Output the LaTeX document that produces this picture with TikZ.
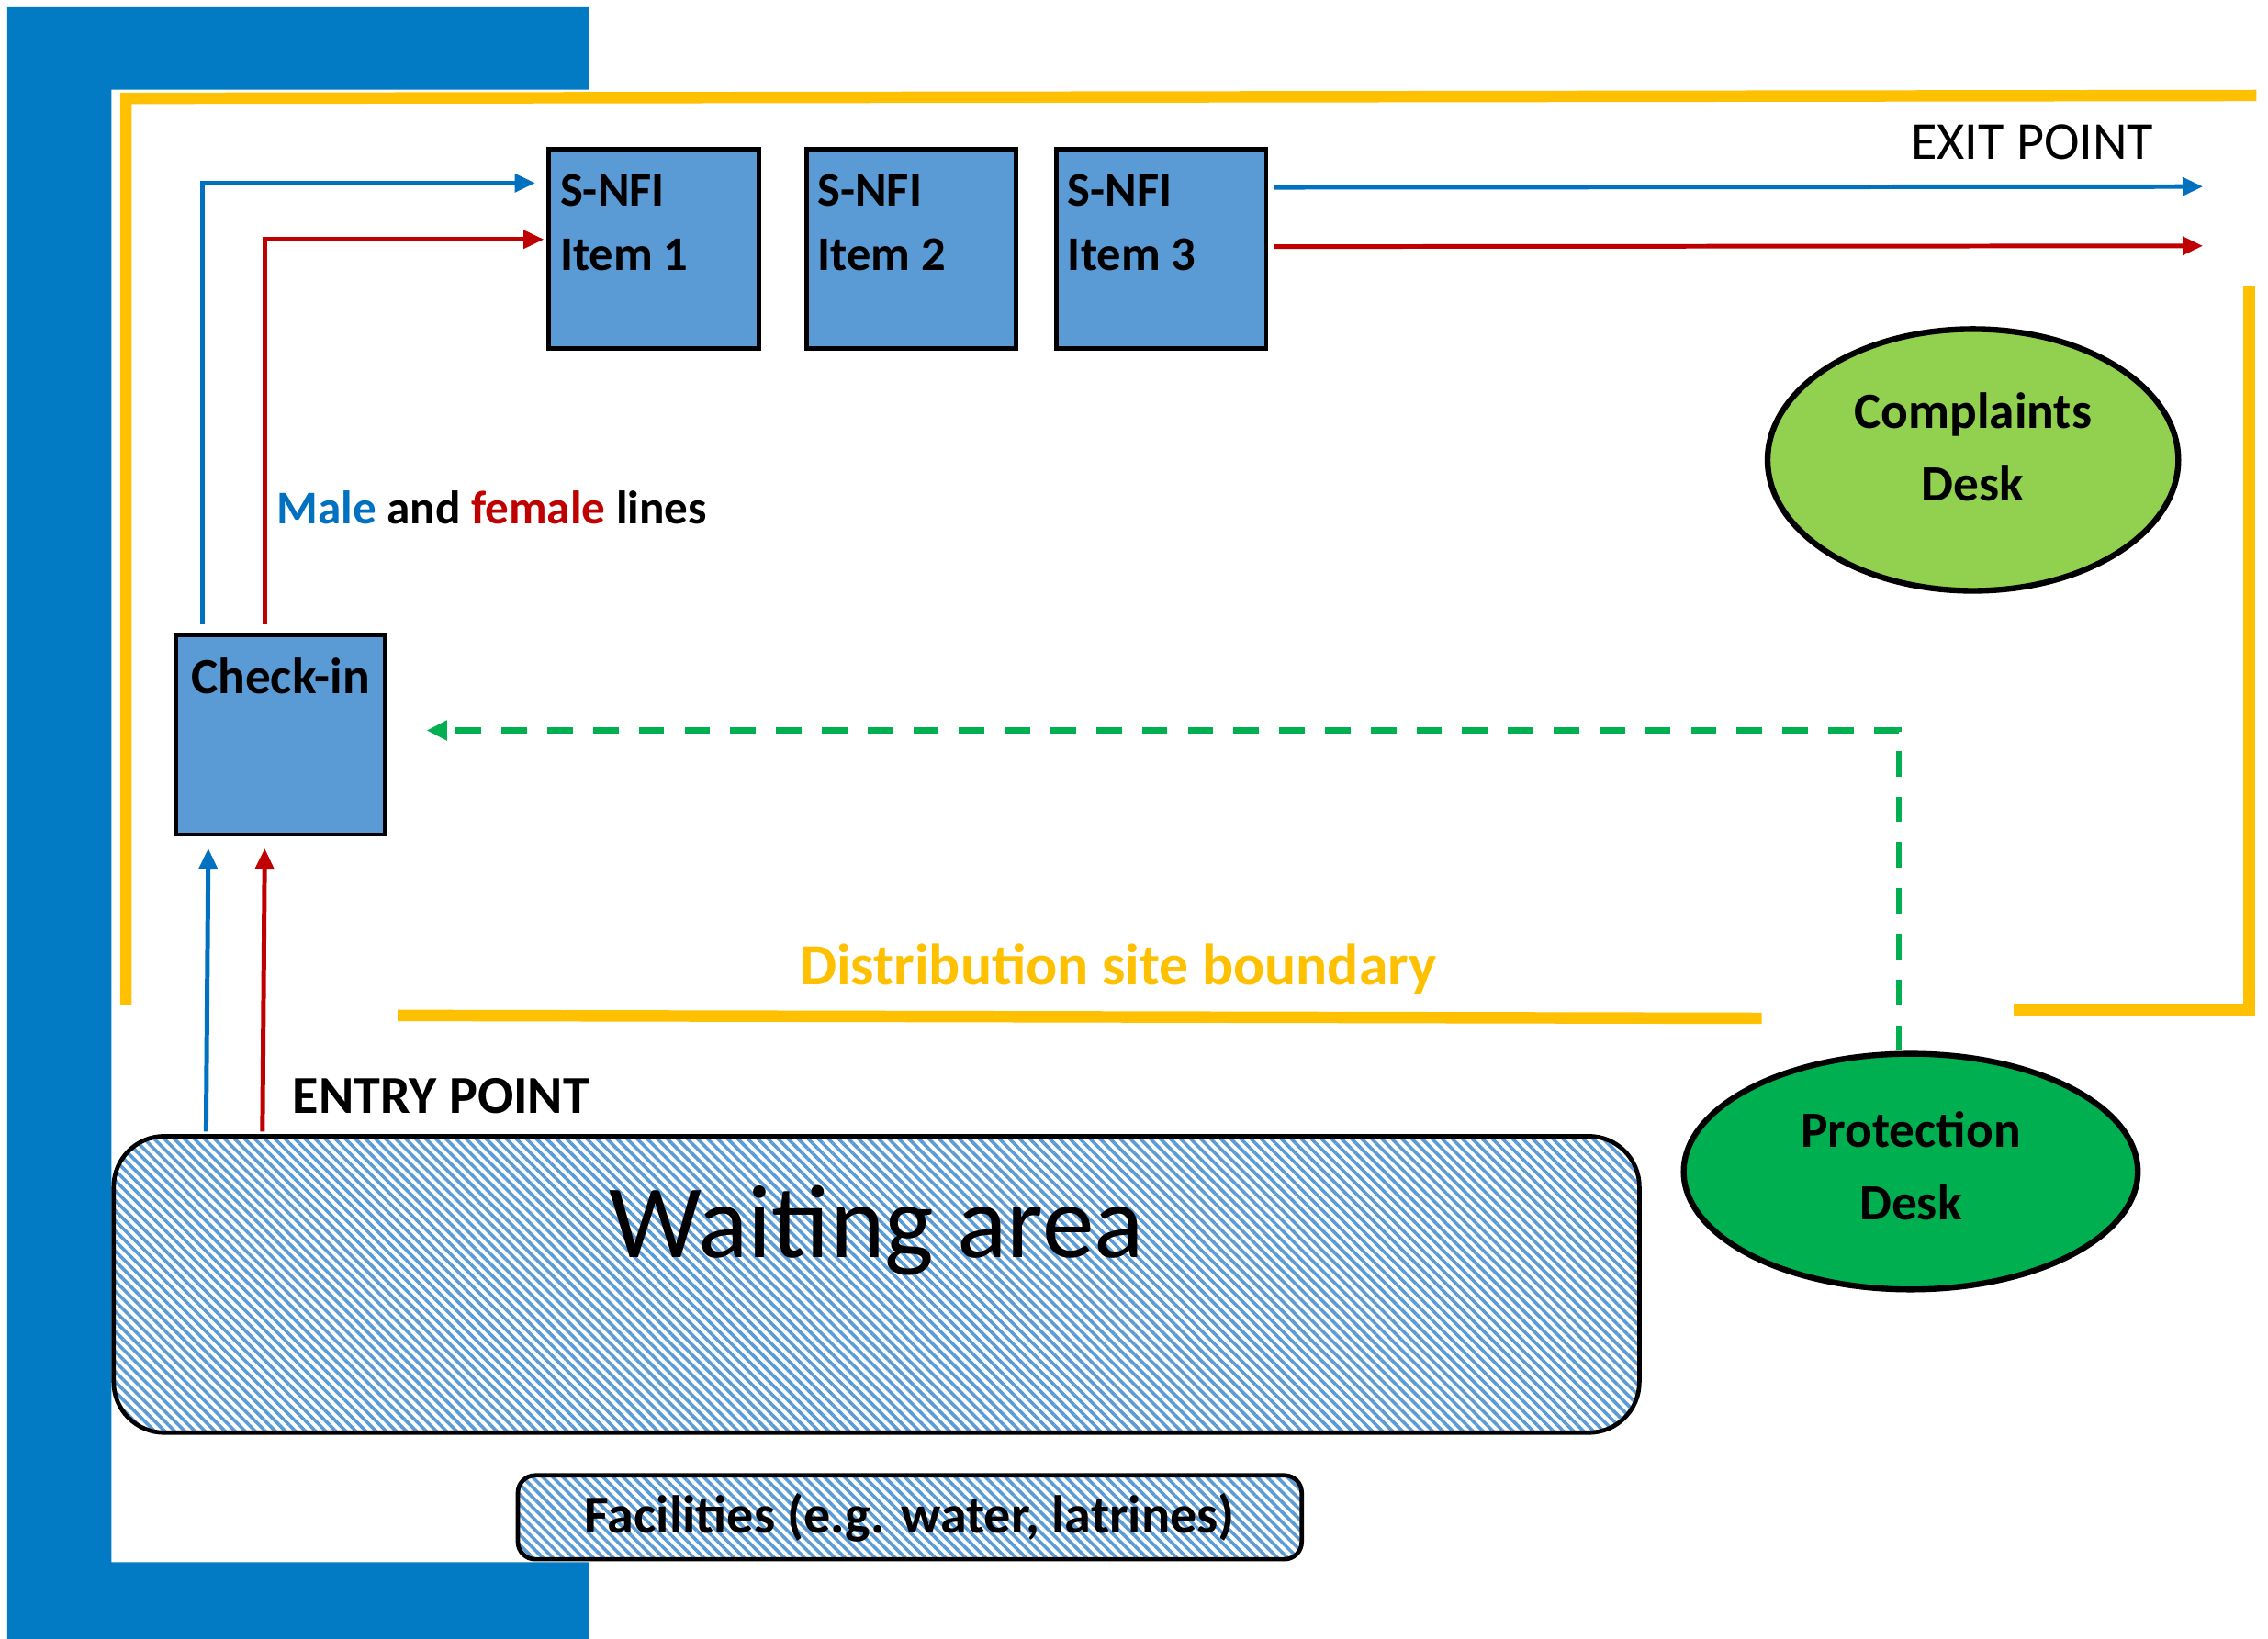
\documentclass[tikz,border=0pt]{standalone}
\usepackage{fontspec}
\setmainfont{Carlito}
\usepackage{xcolor}
\usepackage{tikz}
\usetikzlibrary{arrows.meta,shapes.geometric,positioning,calc,patterns.meta}

\definecolor{bandblue}{RGB}{2,122,196}
\definecolor{boxblue}{RGB}{91,155,213}
\definecolor{siteyellow}{RGB}{255,192,0}
\definecolor{maleblue}{RGB}{0,112,192}
\definecolor{femalered}{RGB}{192,0,0}
\definecolor{desklime}{RGB}{146,208,80}
\definecolor{deskgreen}{RGB}{0,176,80}

\begin{document}
\begin{tikzpicture}[x=0.02cm, y=-0.02cm,
		itembox/.style={draw, line width=1.7pt, fill=boxblue, minimum width=2.9cm, minimum height=2.76cm, inner sep=0pt},
		itemtext/.style={anchor=north west, align=left, inner sep=0pt, font=\fontsize{19}{25}\selectfont\bfseries},
		desk/.style={ellipse, draw, line width=2.3pt, inner sep=0pt, align=center, font=\fontsize{20}{28.5}\selectfont\bfseries},
		hatched/.style={draw, line width=1.7pt, pattern={Lines[angle=-45,distance=2.8pt,line width=1.3pt]}, pattern color=boxblue},
		boundary/.style={siteyellow, line width=4.5pt},
		male/.style={maleblue, line width=1.8pt, -{Triangle[length=8pt,width=7pt]}},
		female/.style={male, femalered},
		feedback/.style={deskgreen, line width=2.2pt, dash pattern=on 10pt off 8pt, -{Triangle[length=8pt,width=7.5pt]}}]

		\useasboundingbox (0,0) rectangle (1568,1133);

		\fill[bandblue] (5,5) -- (407,5) -- (407,62) -- (77,62) -- (77,1080) -- (407,1080) -- (407,1133) -- (5,1133) -- cycle;

		\draw[boundary] (87,695) -- (87,68) -- (1560,66);
		\draw[boundary] (1555,198) -- (1555,698) -- (1392,698);
		\draw[boundary] (275,702) -- (1218,704);

		\node[itembox, label={[itemtext, xshift=0.18cm, yshift=-0.38cm]north west:S-NFI\\Item 1}] (item1) at (452,172) {};
		\node[itembox, right=0.6cm of item1, label={[itemtext, xshift=0.18cm, yshift=-0.38cm]north west:S-NFI\\Item 2}] (item2) {};
		\node[itembox, right=0.5cm of item2, label={[itemtext, xshift=0.18cm, yshift=-0.38cm]north west:S-NFI\\Item 3}] (item3) {};

		\node[itembox, label={[anchor=north, inner sep=0pt, yshift=-0.34cm, font=\fontsize{20}{24}\selectfont\bfseries]north:Check-in}] (checkin) at (194,508) {};

		\node[hatched, rounded corners=0.7cm, minimum width=21.1cm, minimum height=4.1cm,
			label={[anchor=base, yshift=-1.7cm, font=\fontsize{41}{44}\selectfont]north:Waiting area}] (waiting) at (606,888) {};

		\node[hatched, rounded corners=0.24cm, minimum width=10.84cm, minimum height=1.16cm, font=\fontsize{21}{24}\selectfont\bfseries] (facilities) at (629,1049) {Facilities (e.g. water, latrines)};

		\node[desk, fill=desklime, minimum width=5.68cm, minimum height=3.62cm] (complaints) at (1364,318) {Complaints\\Desk\\[-0.64cm]};

		\node[desk, fill=deskgreen, minimum width=6.28cm, minimum height=3.26cm] (protection) at (1321,810) {Protection\\Desk\\[-0.84cm]};

		\node[anchor=base, font=\fontsize{21}{24}\selectfont] (exit) at (1405,110) {EXIT POINT};
		\node[anchor=base west, inner sep=0pt, font=\fontsize{21}{24}\selectfont\bfseries] (entry) at (202,770) {ENTRY POINT};
		\node[anchor=base west, inner sep=0pt, font=\fontsize{18.5}{20}\selectfont\bfseries] (lines) at (191,362) {\textcolor{maleblue}{Male} and \textcolor{femalered}{female} lines};
		\node[anchor=base, text=siteyellow, font=\fontsize{23}{26}\selectfont\bfseries] (sitelabel) at (773,681) {Distribution site boundary};

		\coordinate (exitm) at (1523,129);
		\coordinate (exitf) at (1523,170);

		\draw[male] ($(waiting.north west)+(65,-2)$) -- ($(checkin.south west)+(24,8)$);
		\draw[female] ($(waiting.north west)+(104,-2)$) -- ($(checkin.south west)+(63,8)$);

		\draw[male] ($(checkin.north west)+(20,-6)$) |- ($(item1.north west)+(-8,25)$);
		\draw[female] ($(checkin.north west)+(63,-6)$) |- ($(item1.north west)+(-2,64)$);

		\draw[male] ($(item3.north east)+(4,28)$) -- (exitm);
		\draw[female] ($(item3.north east)+(4,69)$) -- (exitf);

		\draw[feedback] ($(protection.north)+(-8,0)$) |- ($(checkin.east)+(27,-3)$);
	\end{tikzpicture}
\end{document}
